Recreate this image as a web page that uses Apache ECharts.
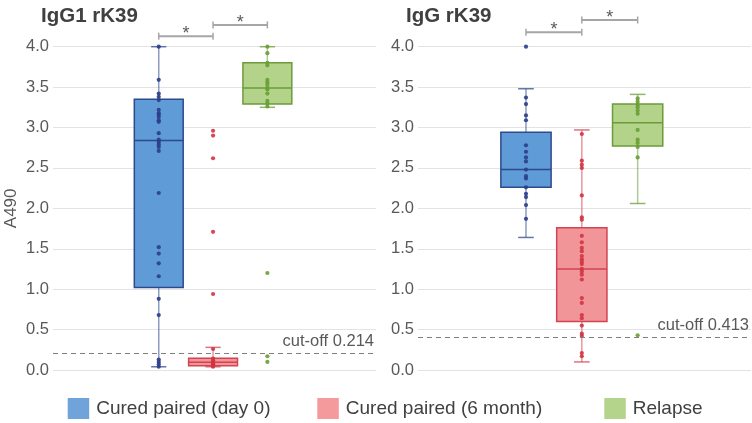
<!DOCTYPE html>
<html><head><meta charset="utf-8">
<script src="https://cdn.jsdelivr.net/npm/echarts@6/dist/echarts.min.js"></script>
<style>html,body{margin:0;padding:0;background:#fff}#c{width:752px;height:423px}</style>
</head><body><div id="c"></div>
<script>
// ---------------- data ----------------
const panelTitles = ['IgG1 rK39', 'IgG rK39'];
const groups = ['Cured paired (day 0)', 'Cured paired (6 month)', 'Relapse'];
const yMin = 0, yMax = 4, yStep = 0.5;
const cutoffs = [0.214, 0.413];
const sigLabel = '*';
const sigPairs = [[0, 1], [1, 2]];

// box stats: [min whisker, Q1, median, Q3, max whisker]
const igg1Day0Box = [0.04, 1.02, 2.84, 3.35, 4.0];
const igg1M6Box   = [0.04, 0.053, 0.095, 0.145, 0.28];
const igg1RelBox  = [3.25, 3.29, 3.49, 3.80, 4.0];
const iggDay0Box  = [1.64, 2.26, 2.48, 2.94, 3.48];
const iggM6Box    = [0.10, 0.60, 1.25, 1.76, 2.97];
const iggRelBox   = [2.06, 2.77, 3.06, 3.29, 3.41];

// individual points
const igg1Day0Pts = [4.0, 3.59, 3.42, 3.38, 3.34, 3.22, 3.18, 3.16, 3.13, 3.09, 3.07, 2.93, 2.85, 2.82, 2.79, 2.76, 2.71, 2.19, 1.52, 1.44, 1.32, 1.16, 0.88, 0.68, 0.13, 0.10, 0.07, 0.04];
const igg1M6Pts   = [2.96, 2.90, 2.62, 1.71, 0.94, 0.26, 0.14, 0.12, 0.10, 0.08, 0.07, 0.06, 0.05, 0.04];
const igg1RelPts  = [4.0, 3.92, 3.80, 3.77, 3.59, 3.56, 3.53, 3.49, 3.47, 3.42, 3.33, 3.30, 3.26, 1.20, 0.17, 0.10];
const iggDay0Pts  = [4.0, 3.37, 3.29, 3.15, 3.09, 2.78, 2.70, 2.63, 2.58, 2.48, 2.40, 2.37, 2.26, 2.18, 2.14, 2.04, 1.87];
const iggM6Pts    = [2.92, 2.59, 2.54, 2.50, 2.16, 1.89, 1.86, 1.66, 1.58, 1.51, 1.47, 1.41, 1.37, 1.34, 1.31, 1.25, 1.22, 1.18, 1.12, 0.89, 0.83, 0.68, 0.64, 0.55, 0.45, 0.42, 0.21, 0.17];
const iggRelPts   = [3.36, 3.32, 3.28, 3.25, 3.21, 3.17, 2.97, 2.85, 2.81, 2.76, 2.63, 0.43];

// ---------------- styling / layout ----------------
const FONT = 'Liberation Sans';
const boxes = [[igg1Day0Box, igg1M6Box, igg1RelBox], [iggDay0Box, iggM6Box, iggRelBox]];
const points = [[igg1Day0Pts, igg1M6Pts, igg1RelPts], [iggDay0Pts, iggM6Pts, iggRelPts]];
const fills   = ['#5f9bd6', '#f19599', '#b3d38a'];
const borders = ['#2f4a8c', '#d24452', '#6c9c3a'];
const dots    = ['#2b3d8a', '#d23443', '#6a9e34'];
const legendColors = ['#6fa3d9', '#f4999c', '#b4d38b'];
const grids = [
  {left: 53, top: 46.7, width: 323, height: 323.3},
  {left: 418, top: 46.7, width: 333, height: 323.3}
];
const xRanges = [[-0.947, 5.0], [-0.934, 5.03]];
const bracketLevels = [[4.13, 4.27], [4.18, 4.33]];
const legendLefts = [67.7, 317.3, 604.3];
const BOX_W = 0.9, CAP_W = 0.28;

function boxRender(gi) {
  return function (params, api) {
    const x = api.value(0);
    const lo = api.coord([x, api.value(1)]);
    const q1 = api.coord([x, api.value(2)]);
    const md = api.coord([x, api.value(3)]);
    const q3 = api.coord([x, api.value(4)]);
    const hi = api.coord([x, api.value(5)]);
    const w = api.size([BOX_W, 0])[0];
    const cw = api.size([CAP_W, 0])[0];
    const cx = lo[0];
    const wcol = borders[gi];
    return {
      type: 'group',
      children: [
        {type: 'line', shape: {x1: cx, y1: lo[1], x2: cx, y2: hi[1]}, style: {stroke: wcol, lineWidth: 1.5, opacity: 0.55}},
        {type: 'line', shape: {x1: cx - cw / 2, y1: lo[1], x2: cx + cw / 2, y2: lo[1]}, style: {stroke: wcol, lineWidth: 1.5, opacity: 0.75}},
        {type: 'line', shape: {x1: cx - cw / 2, y1: hi[1], x2: cx + cw / 2, y2: hi[1]}, style: {stroke: wcol, lineWidth: 1.5, opacity: 0.75}},
        {type: 'rect', shape: {x: cx - w / 2, y: q3[1], width: w, height: q1[1] - q3[1]}, style: {fill: fills[gi], stroke: borders[gi], lineWidth: 1.5}},
        {type: 'line', shape: {x1: cx - w / 2, y1: md[1], x2: cx + w / 2, y2: md[1]}, style: {stroke: borders[gi], lineWidth: 1.5}}
      ]
    };
  };
}

function bracketRender(params, api) {
  const a = api.coord([api.value(0), api.value(2)]);
  const b = api.coord([api.value(1), api.value(2)]);
  const col = '#a6a6a6';
  return {
    type: 'group',
    children: [
      {type: 'line', shape: {x1: a[0], y1: a[1], x2: b[0], y2: b[1]}, style: {stroke: col, lineWidth: 2}},
      {type: 'line', shape: {x1: a[0], y1: a[1] - 3.5, x2: a[0], y2: a[1] + 3.5}, style: {stroke: col, lineWidth: 1.5}},
      {type: 'line', shape: {x1: b[0], y1: b[1] - 3.5, x2: b[0], y2: b[1] + 3.5}, style: {stroke: col, lineWidth: 1.5}},
      {type: 'text', style: {text: sigLabel, x: (a[0] + b[0]) / 2, y: a[1] - 2, align: 'center', verticalAlign: 'middle', fill: '#595959', font: '18px "' + FONT + '"'}}
    ]
  };
}

const series = [];
for (let p = 0; p < 2; p++) {
  for (let g = 0; g < 3; g++) {
    const s = {
      name: groups[g], type: 'custom', xAxisIndex: p, yAxisIndex: p,
      renderItem: boxRender(g), itemStyle: {color: legendColors[g]},
      encode: {x: 0, y: [1, 2, 3, 4, 5]},
      data: [[g + 1].concat(boxes[p][g])], silent: true, z: 2
    };
    if (g === 0) {
      s.markLine = {
        silent: true, symbol: 'none',
        lineStyle: {type: [5, 4], color: '#7f7f7f', width: 1},
        label: {position: 'insideEndTop', formatter: 'cut-off ' + cutoffs[p].toFixed(3), fontSize: 16.5, color: '#595959', fontFamily: FONT, distance: [2, 3]},
        data: [{yAxis: cutoffs[p]}]
      };
    }
    series.push(s);
    series.push({
      name: groups[g], type: 'scatter', xAxisIndex: p, yAxisIndex: p,
      symbol: 'circle', symbolSize: 4.2, silent: true, z: 4,
      itemStyle: {color: dots[g], opacity: 0.9},
      data: points[p][g].map(v => [g + 1, v])
    });
  }
  series.push({
    type: 'custom', xAxisIndex: p, yAxisIndex: p, clip: false, silent: true, z: 5,
    renderItem: bracketRender,
    data: sigPairs.map((pr, i) => [pr[0] + 1, pr[1] + 1, bracketLevels[p][i]])
  });
}

const yTickLabels = [];
for (let v = yMin; v <= yMax + 1e-9; v += yStep) yTickLabels.push(v.toFixed(1));

const option = {
  animation: false,
  textStyle: {fontFamily: FONT},
  title: panelTitles.map((t, i) => ({
    text: t, left: i === 0 ? 36 : 401, top: 1,
    textStyle: {fontSize: 20.5, fontWeight: 'bold', color: '#404040', fontFamily: FONT}
  })),
  legend: groups.map((gname, i) => ({
    data: [{name: gname, itemStyle: {color: legendColors[i]}}],
    left: legendLefts[i], top: 398, padding: 0, itemWidth: 21.5, itemHeight: 21, icon: 'rect',
    selectedMode: false, textStyle: {fontSize: 19, color: '#404040', fontFamily: FONT, padding: [0, 0, 0, 2]}
  })),
  grid: grids,
  xAxis: xRanges.map((r, i) => ({
    type: 'value', gridIndex: i, min: r[0], max: r[1], show: false
  })),
  yAxis: [0, 1].map(i => ({
    type: 'value', gridIndex: i, min: yMin, max: yMax, interval: yStep,
    name: i === 0 ? 'A490' : '', nameLocation: 'middle', nameGap: 33, nameRotate: 90,
    nameTextStyle: {fontSize: 17, color: '#595959', fontFamily: FONT},
    axisLine: {show: false}, axisTick: {show: false},
    axisLabel: {fontSize: 16.5, color: '#595959', margin: 4, fontFamily: FONT,
      formatter: v => yTickLabels[Math.round((v - yMin) / yStep)]},
    splitLine: {lineStyle: {color: '#e3e3e3', width: 1}}
  })),
  series: series
};
const chart = echarts.init(document.getElementById('c'), null, {renderer: 'canvas'});
chart.setOption(option);
</script></body></html>
